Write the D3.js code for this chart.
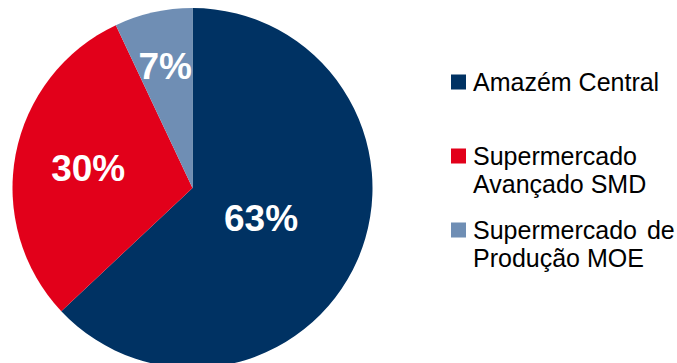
<!DOCTYPE html>
<html>
<head>
<meta charset="utf-8">
<script src="https://cdn.jsdelivr.net/npm/d3@7"></script>
<style>
  html, body { margin: 0; padding: 0; background: #ffffff; }
  svg { display: block; }
</style>
</head>
<body>
<svg id="chart" width="677" height="363"></svg>
<script>
// Share of storage by location
const categories = ["Amazém Central", "Supermercado Avançado SMD", "Supermercado de Produção MOE"];
const shares = [63, 30, 7];
const legendLines = [["Amazém Central"], ["Supermercado", "Avançado SMD"], ["Supermercado de", "Produção MOE"]];
const colors = ["#003263", "#E2001A", "#6F8EB4"];

const W = 677, H = 363;
const svg = d3.select("#chart");

const cx = 192.5, cy = 188, R = 180;

const pie = d3.pie().value(d => d).sort(null);
const arcs = pie(shares);
const arc = d3.arc().innerRadius(0).outerRadius(R);

const g = svg.append("g").attr("transform", `translate(${cx},${cy})`);

g.selectAll("path.slice")
  .data(arcs)
  .enter().append("path")
  .attr("class", "slice")
  .attr("d", arc)
  .attr("fill", (d, i) => colors[i]);

// Percentage labels, placed along each slice's bisector
const labelRadiusFrac = [0.415, 0.59, 0.695];
const labelSize = 37;
g.selectAll("text.pct")
  .data(arcs)
  .enter().append("text")
  .attr("class", "pct")
  .attr("transform", (d, i) => {
    const r = R * labelRadiusFrac[i];
    const c = d3.arc().innerRadius(r).outerRadius(r).centroid(d);
    return `translate(${c[0]},${c[1] + labelSize * 0.36})`;
  })
  .attr("text-anchor", "middle")
  .attr("font-family", "'Liberation Sans', Arial, sans-serif")
  .attr("font-weight", "bold")
  .attr("font-size", labelSize)
  .attr("fill", "#ffffff")
  .text(d => d.data + "%");

// Legend
const legendX = 451, textX = 473, sw = 15;
const baselines = [91, 165, 239];
const lineGap = 28;
const lg = svg.append("g");
categories.forEach((c, i) => {
  lg.append("rect")
    .attr("x", legendX)
    .attr("y", baselines[i] - 16.5)
    .attr("width", sw)
    .attr("height", sw)
    .attr("fill", colors[i]);
  const t = lg.append("text")
    .attr("font-family", "'Liberation Sans', Arial, sans-serif")
    .attr("font-size", 25)
    .attr("fill", "#000000");
  legendLines[i].forEach((ln, j) => {
    t.append("tspan")
      .attr("x", textX)
      .attr("y", baselines[i] + j * lineGap)
      .attr("word-spacing", (legendLines[i].length > 1 && j === 0 && ln.includes(" ")) ? 3 : 0)
      .text(ln);
  });
});
</script>
</body>
</html>
